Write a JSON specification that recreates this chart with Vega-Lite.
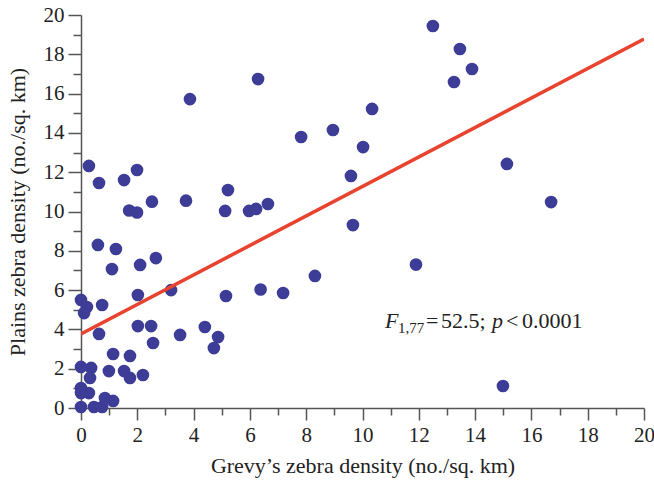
{
  "$schema": "https://vega.github.io/schema/vega-lite/v6.json",
  "width": 563,
  "height": 393,
  "autosize": "none",
  "padding": {"left": 81, "top": 15, "right": 10, "bottom": 74},
  "background": "white",
  "config": {
    "view": {"stroke": null},
    "font": "Liberation Serif",
    "axis": {
      "labelFont": "Liberation Serif",
      "titleFont": "Liberation Serif",
      "labelFontSize": 21,
      "titleFontSize": 22,
      "titleFontWeight": "normal",
      "labelColor": "#222222",
      "titleColor": "#222222",
      "domainColor": "#555555",
      "tickColor": "#555555",
      "domainWidth": 1.5,
      "tickWidth": 1.5,
      "grid": false,
      "labelOverlap": false
    }
  },
  "datasets": {
    "pts": [
      {"g": 12.5, "p": 19.44}, {"g": 13.46, "p": 18.27}, {"g": 13.89, "p": 17.25}, {"g": 13.25, "p": 16.59},
      {"g": 6.29, "p": 16.74}, {"g": 3.87, "p": 15.72}, {"g": 10.34, "p": 15.22}, {"g": 8.95, "p": 14.15},
      {"g": 7.82, "p": 13.79}, {"g": 10.02, "p": 13.28}, {"g": 0.28, "p": 12.32}, {"g": 1.99, "p": 12.11},
      {"g": 0.64, "p": 11.45}, {"g": 1.53, "p": 11.6}, {"g": 9.59, "p": 11.81}, {"g": 5.22, "p": 11.09},
      {"g": 2.52, "p": 10.5}, {"g": 3.73, "p": 10.55}, {"g": 6.64, "p": 10.38}, {"g": 16.7, "p": 10.48},
      {"g": 15.13, "p": 12.42}, {"g": 1.71, "p": 10.05}, {"g": 1.99, "p": 9.95}, {"g": 5.12, "p": 10.03},
      {"g": 5.97, "p": 10.03}, {"g": 6.22, "p": 10.13}, {"g": 9.66, "p": 9.31}, {"g": 0.6, "p": 8.3},
      {"g": 1.24, "p": 8.09}, {"g": 2.66, "p": 7.63}, {"g": 1.1, "p": 7.07}, {"g": 2.1, "p": 7.28},
      {"g": 11.9, "p": 7.3}, {"g": 8.31, "p": 6.72}, {"g": 3.2, "p": 6.0}, {"g": 6.38, "p": 6.03},
      {"g": 7.18, "p": 5.85}, {"g": 2.02, "p": 5.75}, {"g": 0.0, "p": 5.5}, {"g": 0.21, "p": 5.14},
      {"g": 0.11, "p": 4.83}, {"g": 0.75, "p": 5.24}, {"g": 5.15, "p": 5.7}, {"g": 0.64, "p": 3.77},
      {"g": 2.02, "p": 4.17}, {"g": 2.49, "p": 4.17}, {"g": 3.52, "p": 3.72}, {"g": 4.4, "p": 4.12},
      {"g": 4.87, "p": 3.61}, {"g": 4.72, "p": 3.05}, {"g": 2.56, "p": 3.31}, {"g": 1.14, "p": 2.75},
      {"g": 1.74, "p": 2.65}, {"g": 0.0, "p": 2.09}, {"g": 0.36, "p": 2.04}, {"g": 0.32, "p": 1.53},
      {"g": 0.99, "p": 1.88}, {"g": 1.53, "p": 1.88}, {"g": 1.74, "p": 1.53}, {"g": 2.2, "p": 1.68},
      {"g": 0.0, "p": 1.02}, {"g": 0.0, "p": 0.76}, {"g": 0.28, "p": 0.76}, {"g": 0.0, "p": 0.05},
      {"g": 0.46, "p": 0.05}, {"g": 0.75, "p": 0.05}, {"g": 0.85, "p": 0.51}, {"g": 1.14, "p": 0.36},
      {"g": 14.99, "p": 1.12}
    ],
    "fit": [{"g": 0, "p": 3.77}, {"g": 20, "p": 18.78}],
    "ital": [{"x": 10.8, "y": 4.07, "t": "F"}, {"x": 14.6, "y": 4.07, "t": "p"}],
    "reg": [{"x": 12.26, "y": 4.07, "t": "="}, {"x": 12.79, "y": 4.07, "t": "52.5;"}, {"x": 15.1, "y": 4.07, "t": "<"}, {"x": 15.67, "y": 4.07, "t": "0.0001"}],
    "sub": [{"x": 11.26, "y": 3.82, "t": "1,77"}]
  },
  "resolve": {"axis": {"x": "independent", "y": "independent"}},
  "layer": [
    {
      "data": {"name": "pts"},
      "mark": {"type": "circle", "size": 160, "color": "#3d3d97", "opacity": 1},
      "encoding": {
        "x": {
          "field": "g", "type": "quantitative",
          "scale": {"domain": [0, 20], "nice": false, "zero": false},
          "axis": {
            "orient": "bottom",
            "title": "Grevy’s zebra density (no./sq. km)",
            "values": [0,2,4,6,8,10,12,14,16,18,20],
            "labelFont": "Liberation Serif",
            "tickSize": 12,
            "labelPadding": 4,
            "titlePadding": 10,
            "labelFlush": false,
            "labelOverlap": false
          }
        },
        "y": {
          "field": "p", "type": "quantitative",
          "scale": {"domain": [0, 20], "nice": false, "zero": false},
          "axis": {
            "orient": "left",
            "title": "Plains zebra density (no./sq. km)",
            "values": [0,2,4,6,8,10,12,14,16,18,20],
            "labelFont": "Liberation Serif",
            "tickSize": 13,
            "labelPadding": 4,
            "titlePadding": 14,
            "labelFlush": false,
            "labelOverlap": false
          }
        }
      }
    },
    {
      "data": {"name": "fit"},
      "mark": {"type": "line", "color": "#e8432e", "strokeWidth": 3.5, "clip": true},
      "encoding": {
        "x": {"field": "g", "type": "quantitative",
          "axis": {"orient": "bottom", "title": null, "labels": false, "domain": false, "values": [1,3,5,7,9,11,13,15,17,19], "tickSize": 7}},
        "y": {"field": "p", "type": "quantitative",
          "axis": {"orient": "left", "title": null, "labels": false, "domain": false, "values": [1,3,5,7,9,11,13,15,17,19], "tickSize": 8}}
      }
    },
    {
      "data": {"name": "ital"},
      "mark": {"type": "text", "font": "Liberation Serif", "fontSize": 22, "fontStyle": "italic", "align": "left", "baseline": "alphabetic", "color": "#222222"},
      "encoding": {
        "x": {"field": "x", "type": "quantitative", "axis": null},
        "y": {"field": "y", "type": "quantitative", "axis": null},
        "text": {"field": "t"}
      }
    },
    {
      "data": {"name": "reg"},
      "mark": {"type": "text", "font": "Liberation Serif", "fontSize": 22, "align": "left", "baseline": "alphabetic", "color": "#222222"},
      "encoding": {
        "x": {"field": "x", "type": "quantitative", "axis": null},
        "y": {"field": "y", "type": "quantitative", "axis": null},
        "text": {"field": "t"}
      }
    },
    {
      "data": {"name": "sub"},
      "mark": {"type": "text", "font": "Liberation Serif", "fontSize": 15, "align": "left", "baseline": "alphabetic", "color": "#222222"},
      "encoding": {
        "x": {"field": "x", "type": "quantitative", "axis": null},
        "y": {"field": "y", "type": "quantitative", "axis": null},
        "text": {"field": "t"}
      }
    }
  ]
}
